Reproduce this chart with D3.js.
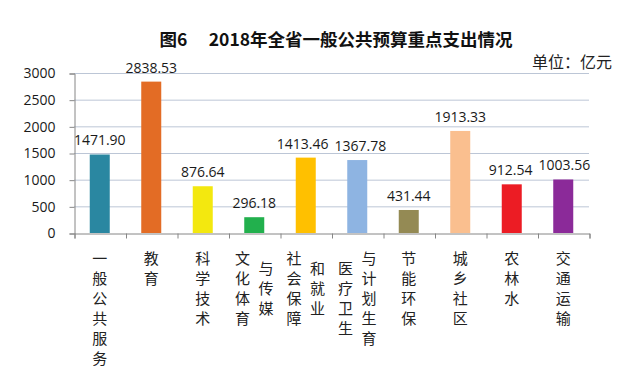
<!DOCTYPE html>
<html>
<head>
<meta charset="utf-8">
<script src="https://cdn.jsdelivr.net/npm/d3@7"></script>
<style>
  html, body { margin: 0; padding: 0; background: #fff; }
  svg { display: block; }
</style>
</head>
<body>
<svg id="chart" width="630" height="374"></svg>
<script>
// 2018年全省一般公共预算重点支出（亿元）
const categories = ["一般公共服务", "教育", "科学技术", "文化体育与传媒", "社会保障和就业",
    "医疗卫生与计划生育", "节能环保", "城乡社区", "农林水", "交通运输"];
const labelColumns = [["一般公共服务"], ["教育"], ["科学技术"], ["文化体育", "与传媒"],
    ["社会保障", "和就业"], ["医疗卫生", "与计划生育"], ["节能环保"], ["城乡社区"], ["农林水"], ["交通运输"]];
const values = [1471.90, 2838.53, 876.64, 296.18, 1413.46, 1367.78, 431.44, 1913.33, 912.54, 1003.56];
const barColors = ["#2a87a1", "#e36c25", "#f3e80f", "#22b04d", "#ffc000",
    "#8eb4e2", "#948a54", "#fabf8f", "#ec1c24", "#8b2a99"];
const yTicks = [0, 500, 1000, 1500, 2000, 2500, 3000];

const svg = d3.select("#chart");
const width = +svg.attr("width");
const height = +svg.attr("height");

const plot = { left: 74, right: 589, top: 73, bottom: 233 };
const numFont = "'Open Sans', 'Liberation Sans', sans-serif";
const cjkFont = "'Noto Sans CJK SC', sans-serif";

const x = d3.scaleBand()
    .domain(categories)
    .range([plot.left, plot.right]);

const y = d3.scaleLinear()
    .domain([0, 3000])
    .range([plot.bottom, plot.top]);

const barWidth = 20;
const lineStep = 20;

svg.append("rect")
    .attr("width", width)
    .attr("height", height)
    .attr("fill", "#fff");

// title
svg.append("text")
    .attr("x", 336)
    .attr("y", 38)
    .attr("text-anchor", "middle")
    .attr("dominant-baseline", "central")
    .style("font-family", cjkFont)
    .style("font-size", "17.5px")
    .style("font-weight", "bold")
    .attr("fill", "#111")
    .text("图6\u3000 2018年全省一般公共预算重点支出情况");

svg.append("text")
    .attr("x", 612)
    .attr("y", 61)
    .attr("text-anchor", "end")
    .attr("dominant-baseline", "central")
    .style("font-family", cjkFont)
    .style("font-size", "16px")
    .attr("fill", "#222")
    .text("单位：亿元");

// gridlines
svg.append("g")
    .selectAll("line")
    .data(yTicks.filter(d => d > 0))
    .join("line")
    .attr("x1", plot.left)
    .attr("x2", plot.right)
    .attr("y1", d => y(d) + 0.5)
    .attr("y2", d => y(d) + 0.5)
    .attr("stroke", "#bcc6d6")
    .attr("stroke-width", 1);

// y axis
const yAxis = svg.append("g")
    .attr("transform", `translate(${plot.left + 0.5},0.5)`)
    .call(d3.axisLeft(y).tickValues(yTicks).tickSize(5).tickPadding(14).tickFormat(d3.format("d")));

yAxis.select(".domain").attr("stroke", "#868686");
yAxis.selectAll(".tick line").attr("stroke", "#868686");
yAxis.selectAll(".tick text")
    .style("font-family", numFont)
    .style("font-size", "14px")
    .attr("fill", "#1a1a1a");

// x axis with ticks at category boundaries
const xEdge = d3.scaleLinear()
    .domain([0, categories.length])
    .range([plot.left, plot.right]);

const xAxis = svg.append("g")
    .attr("transform", `translate(0.5,${plot.bottom + 0.5})`)
    .call(d3.axisBottom(xEdge).ticks(categories.length).tickSize(5).tickFormat(""));

xAxis.select(".domain").attr("stroke", "#868686");
xAxis.selectAll(".tick line").attr("stroke", "#868686");

// bars
svg.append("g")
    .selectAll("rect")
    .data(values)
    .join("rect")
    .attr("x", (d, i) => x(categories[i]) + (x.bandwidth() - barWidth) / 2)
    .attr("y", d => y(d))
    .attr("width", barWidth)
    .attr("height", d => y(0) - y(d))
    .attr("fill", (d, i) => barColors[i]);

// value labels
const valueLabels = svg.append("g")
    .selectAll("text")
    .data(values)
    .join("text")
    .attr("x", (d, i) => x(categories[i]) + x.bandwidth() / 2)
    .attr("y", d => y(d) - 9)
    .attr("text-anchor", "middle")
    .style("font-family", numFont)
    .style("font-size", "14px")
    .attr("fill", "#1a1a1a")
    .text(d => d3.format(".2f")(d));

// push apart neighbouring labels that would touch
const boxes = valueLabels.nodes().map(n => n.getBBox());
const shift = boxes.map(() => 0);
for (let i = 0; i < boxes.length - 1; i++) {
    const a = boxes[i], b = boxes[i + 1];
    const sameRow = a.y < b.y + b.height && b.y < a.y + a.height;
    const overlap = (a.x + a.width + shift[i] + 6) - (b.x + shift[i + 1]);
    if (sameRow && overlap > 0) {
        shift[i] -= overlap / 2;
        shift[i + 1] += overlap / 2;
    }
}
valueLabels.attr("dx", (d, i) => shift[i]);

// vertical category labels
const labelGroups = svg.append("g")
    .selectAll("g")
    .data(labelColumns)
    .join("g")
    .attr("transform", (d, i) => `translate(${x(categories[i]) + x.bandwidth() / 2},257)`);

labelGroups.each(function(cols) {
    const g = d3.select(this);
    const maxLen = d3.max(cols, c => c.length);
    const gap = 23.5;
    cols.forEach((col, ci) => {
        const cx = cols.length === 1 ? 0 : (ci - (cols.length - 1) / 2) * gap;
        const dy = (maxLen - col.length) * lineStep / 2;
        g.append("g")
            .selectAll("text")
            .data(Array.from(col))
            .join("text")
            .attr("x", cx)
            .attr("y", (ch, k) => dy + k * lineStep)
            .attr("text-anchor", "middle")
            .attr("dominant-baseline", "central")
            .style("font-family", cjkFont)
            .style("font-size", "15px")
            .attr("fill", "#222")
            .text(ch => ch);
    });
});
</script>
</body>
</html>
